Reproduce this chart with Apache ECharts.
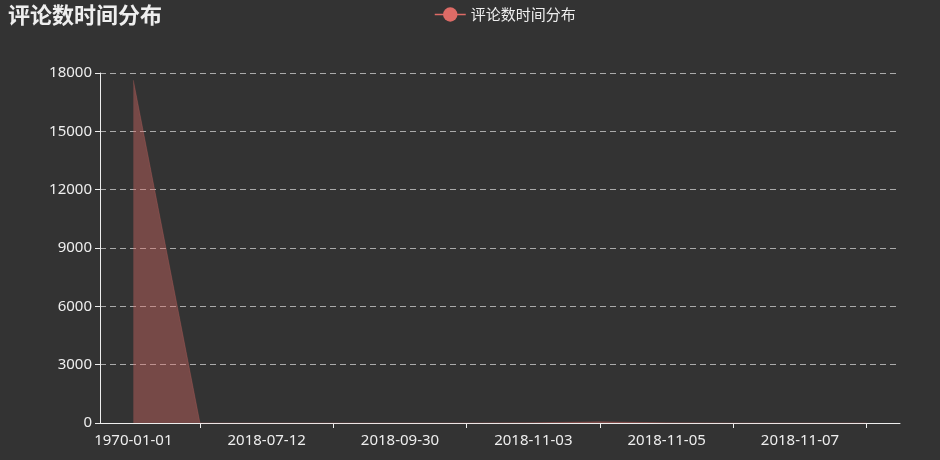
<!DOCTYPE html>
<html>
<head>
<meta charset="utf-8">
<script src="https://cdn.jsdelivr.net/npm/echarts@6/dist/echarts.min.js"></script>
<style>
html,body{margin:0;padding:0;background:#333;}
#main{width:940px;height:460px;}
</style>
</head>
<body>
<div id="main"></div>
<script>
var titleText = '评论数时间分布';
var seriesName = '评论数时间分布';
var categories = ['1970-01-01','2018-06-20','2018-07-12','2018-08-25','2018-09-30','2018-10-30','2018-11-03','2018-11-04','2018-11-05','2018-11-06','2018-11-07','2018-11-08'];
var commentCounts = [17630, 0, 0, 0, 0, 0, 15, 60, 10, 0, 0, 0];
var yTicks = {min: 0, max: 18000, interval: 3000};

var chart = echarts.init(document.getElementById('main'));
var txt = '#eeeeee';
var font = '"Noto Sans", "Noto Sans CJK SC", sans-serif';
var cjk = '"Noto Sans CJK SC", sans-serif';
chart.setOption({
  backgroundColor: '#333333',
  animation: false,
  title: {
    text: titleText, left: 3, top: -1,
    textStyle: {color: txt, fontSize: 22, fontWeight: 'bold', fontFamily: cjk}
  },
  legend: {
    data: [seriesName], left: 429, top: 2,
    itemWidth: 31, itemHeight: 18, itemGap: 10,
    textStyle: {color: txt, fontSize: 15, fontFamily: cjk},
    lineStyle: {opacity: 1, width: 1.5, color: '#dd6b66'},
    itemStyle: {opacity: 1, color: '#dd6b66'}
  },
  grid: {left: 100, right: 40, top: 73, bottom: 37},
  xAxis: {
    type: 'category', data: categories, boundaryGap: true,
    axisLine: {show: true, lineStyle: {color: txt, width: 1}},
    axisTick: {show: true, alignWithLabel: true, length: 5, interval: function(i){ return i % 2 === 1; }, lineStyle: {color: txt}},
    axisLabel: {color: txt, fontSize: 15, fontFamily: font, margin: 10, interval: function(i){ return i % 2 === 0; }},
    splitLine: {show: false}
  },
  yAxis: {
    type: 'value', min: yTicks.min, max: yTicks.max, interval: yTicks.interval,
    axisLine: {show: true, lineStyle: {color: txt, width: 1}},
    axisTick: {show: true, length: 5, lineStyle: {color: txt}},
    axisLabel: {color: txt, fontSize: 15, fontFamily: font, margin: 8, formatter: function(v){ return String(v); }},
    splitLine: {show: true, lineStyle: {type: [6, 4], color: '#aaaaaa', width: 1}}
  },
  series: [{
    name: seriesName, type: 'line', data: commentCounts,
    symbol: 'circle', symbolSize: 8, showSymbol: false,
    itemStyle: {color: '#dd6b66'},
    lineStyle: {width: 1, color: '#dd6b66', opacity: 0.25},
    areaStyle: {color: '#dd6b66', opacity: 0.4}
  }]
});
</script>
</body>
</html>
